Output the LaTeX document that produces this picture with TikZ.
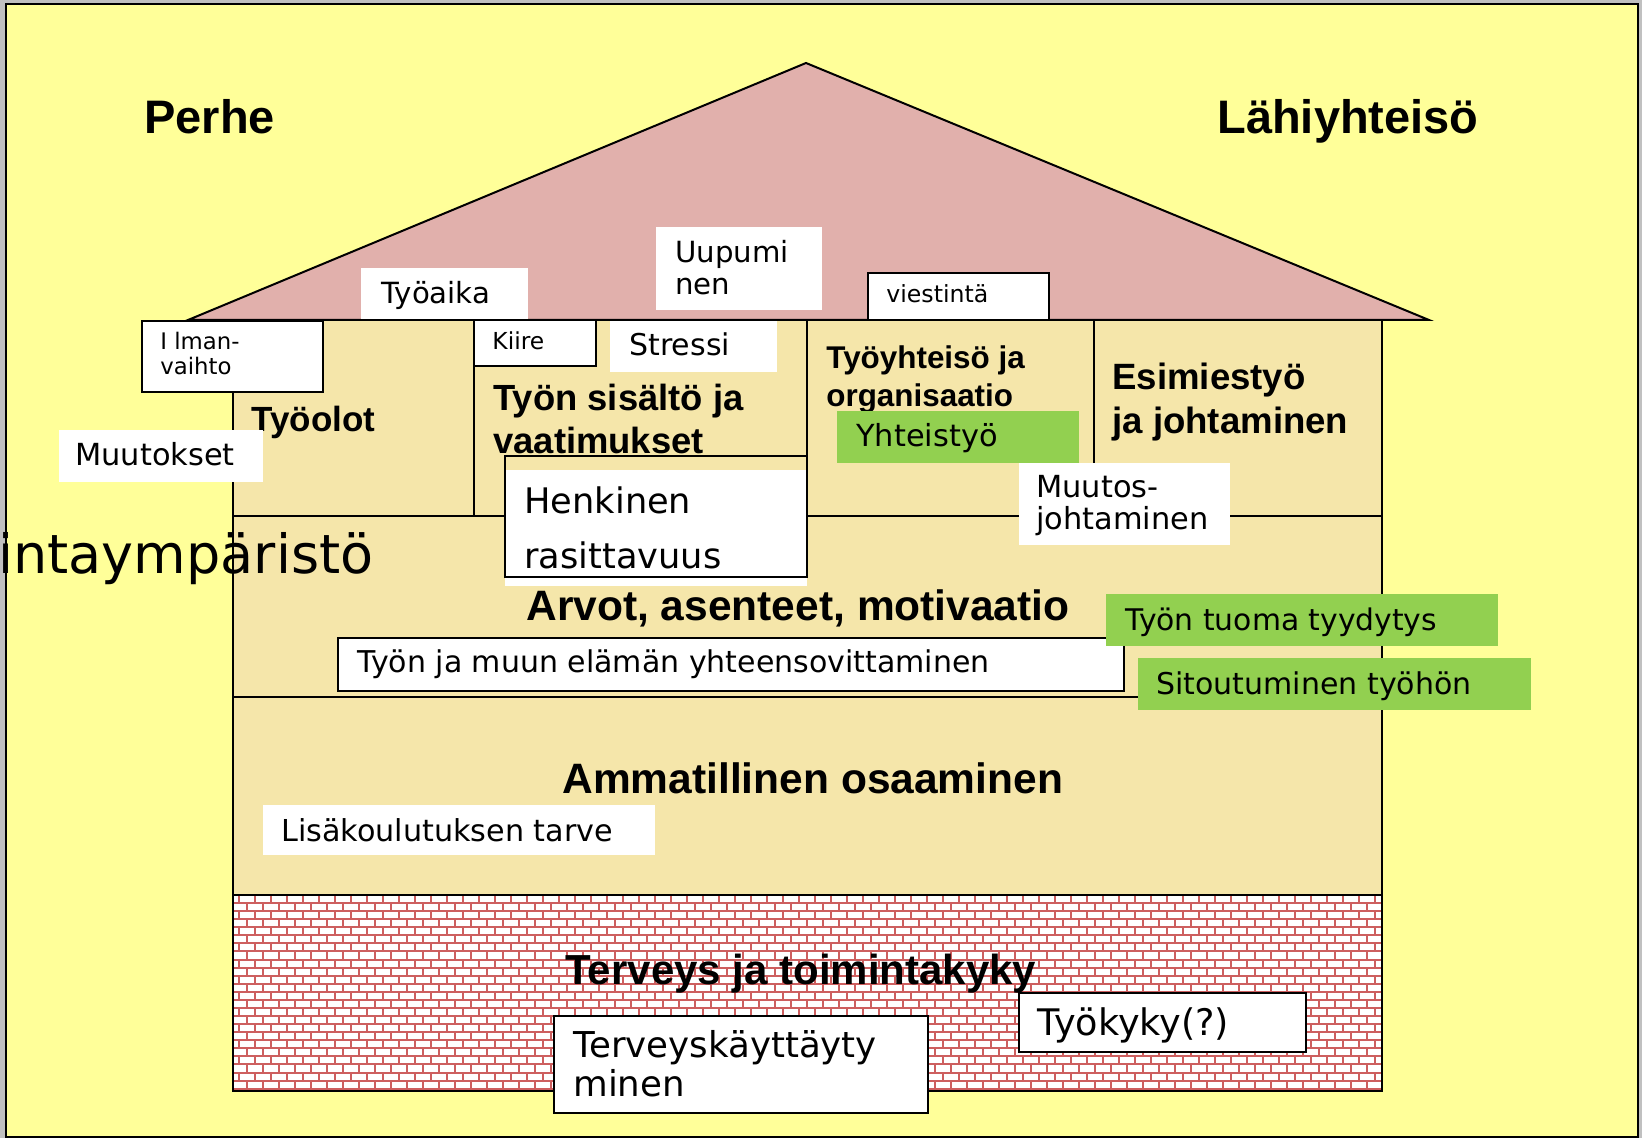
\documentclass[tikz,border=0pt]{standalone}
\usepackage{fontspec}
\setmainfont{DejaVu Sans}
\newfontfamily\verd{DejaVu Sans}
\newfontfamily\arial{Liberation Sans}
\definecolor{outergray}{HTML}{C0C0C0}
\definecolor{bgyellow}{HTML}{FFFF99}
\definecolor{roofpink}{HTML}{E1B0AC}
\definecolor{wallbeige}{HTML}{F5E6AA}
\definecolor{grn}{HTML}{92D050}
\definecolor{mortar}{RGB}{205,95,95}
\newcommand\fs[2]{\fontsize{#1}{#2}\selectfont}
\newcommand\twol[2]{\vtop{\hbox{#1}\hbox{#2}}}
\tikzset{
  lbl/.style={inner sep=0pt, anchor=base west, font=\verd},
  head/.style={inner sep=0pt, anchor=base west, font=\arial\bfseries},
  wbox/.style={fill=white},
  bbox/.style={fill=white, draw=black, line width=1pt},
  gbox/.style={fill=grn},
  wall/.style={draw=black, line width=1pt},
}
\begin{document}
\begin{tikzpicture}[x=0.5pt,y=-0.5pt]
\useasboundingbox (0,0) rectangle (1642,1138);
\fill[outergray] (0,0) rectangle (1642,1138);
\draw[fill=bgyellow, line width=1pt] (6,4) rectangle (1638,1137);

% roof
\draw[fill=roofpink, line width=1pt, line join=miter] (188,320) -- (806,63) -- (1429,320) -- cycle;
% walls
\fill[wallbeige] (233,320) rectangle (1382,895);
% bricks
\begin{scope}
\clip (233,895) rectangle (1382,1091);
\fill[white] (233,895) rectangle (1382,1091);
\draw[mortar, line width=1pt]
  \foreach \i in {1,...,24} { (233,{895+\i*8.07}) -- (1382,{895+\i*8.07}) }
  \foreach \i in {0,...,24} { \foreach \j in {-1,...,72} { ({239+\j*16+mod(\i,2)*8},{895+\i*8.07}) -- ++(0,8.07) } };
\end{scope}
% structure lines
\draw[wall] (233,320) rectangle (1382,1091);
\draw[wall] (233,516) -- (1382,516);
\draw[wall] (233,697) -- (1382,697);
\draw[wall] (233,895) -- (1382,895);
\draw[wall] (474,320) -- (474,516);
\draw[wall] (807,320) -- (807,516);
\draw[wall] (1094,320) -- (1094,516);

% headings
\node[head] (perhe) at (144,134) {\fs{23.5}{28}Perhe};
\node[head] (lahi) at (1217,134) {\fs{23.5}{28}Lähiyhteisö};
\node[head] (tyoolot) at (251,432) {\fs{17.5}{21}Työolot};
\node[head] (tyonsis) at (493,411) {\fs{18.2}{21.3}\twol{Työn sisältö ja}{vaatimukset}};
\node[head] (tyoyht) at (826,369) {\fs{15.7}{18.85}\twol{Työyhteisö ja}{organisaatio}};
\node[head] (esimies) at (1112,389.5) {\fs{18.3}{22}\twol{Esimiestyö}{ja johtaminen}};
\node[head] (arvot) at (526,620) {\fs{21.25}{25}Arvot, asenteet, motivaatio};
\node[head] (ammat) at (562,793.6) {\fs{21.25}{25}Ammatillinen osaaminen};
\node[head] (terveys) at (565,984) {\fs{21}{25}Terveys ja toimintakyky};

% boxes
\path[bbox] (142,321) rectangle (323,392);
\path[wbox] (361,268) rectangle (528,319);
\path[wbox] (656,227) rectangle (822,310);
\path[bbox] (474,320) rectangle (596,366);
\path[wbox] (610,321) rectangle (777,372);
\path[bbox] (868,273) rectangle (1049,320);
\path[wbox] (59,430) rectangle (263,482);
\path[gbox] (837,411) rectangle (1079,463);
\path[wbox] (1019,463) rectangle (1230,545);
\path[wbox] (505,470) rectangle (807,586);
\draw[line width=1pt] (505,456) rectangle (807,577);
\path[bbox] (338,638) rectangle (1124,691);
\path[gbox] (1106,594) rectangle (1498,646);
\path[gbox] (1138,658) rectangle (1531,710);
\path[wbox] (263,805) rectangle (655,855);
\path[bbox] (554,1016) rectangle (928,1113);
\path[bbox] (1019,993) rectangle (1306,1052);

% box texts
\node[lbl] (ilman) at (160,350) {\fs{11.4}{12.5}\twol{I lman-}{vaihto}};
\node[lbl] (tyoaika) at (381,304) {\fs{14.6}{17}Työaika};
\node[lbl] (uupumi) at (675,263) {\fs{14.6}{16}\twol{Uupumi}{nen}};
\node[lbl] (kiire) at (492,350) {\fs{11.7}{14}Kiire};
\node[lbl] (stressi) at (629,356) {\fs{15}{17}Stressi};
\node[lbl] (viestinta) at (886,303) {\fs{11.8}{14}viestintä};
\node[lbl] (muutokset) at (75,466) {\fs{15.2}{18}Muutokset};
\node[lbl] (yhteistyo) at (856,447) {\fs{15.2}{18}Yhteistyö};
\node[lbl] (muutosj) at (1036,497) {\fs{15.2}{16}\twol{Muutos-}{johtaminen}};
\node[lbl] (henkinen) at (524,513) {\fs{17.6}{27.8}\twol{Henkinen}{rasittavuus}};
\node[lbl] (tyonja) at (357,672) {\fs{15}{17}Työn ja muun elämän yhteensovittaminen};
\node[lbl] (tuoma) at (1125,630) {\fs{14.9}{17}Työn tuoma tyydytys};
\node[lbl] (sitout) at (1156,694) {\fs{15}{17}Sitoutuminen työhön};
\node[lbl] (lisak) at (281,841) {\fs{15.1}{18}Lisäkoulutuksen tarve};
\node[lbl] (terkay) at (573,1057) {\fs{17.8}{19.7}\twol{Terveyskäyttäyty}{minen}};
\node[lbl] (tyokyky) at (1037,1035) {\fs{18.3}{21}Työkyky(?)};

% cut text at left edge
\node[lbl] (intay) at (-2,573) {\fs{27}{30}intaympäristö};
\end{tikzpicture}
\end{document}
